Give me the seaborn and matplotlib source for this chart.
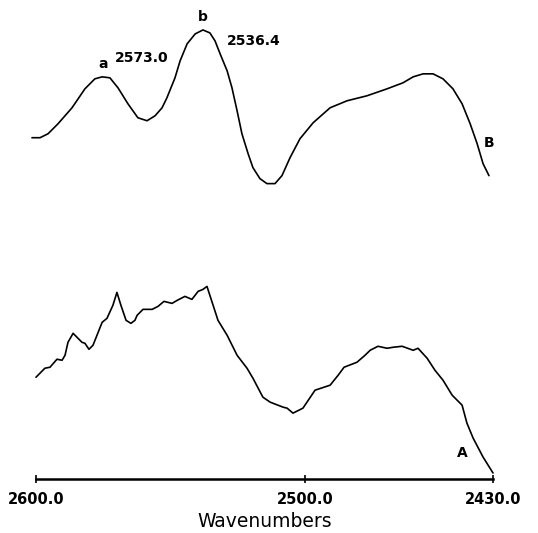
import numpy as np
import pandas as pd
import seaborn as sns
import matplotlib
matplotlib.use("Agg")
import matplotlib.pyplot as plt

# spectrum B (upper trace), wavenumber vs. arbitrary intensity
wn_b = [2601.5, 2598.5, 2595.5, 2591.8, 2586.6, 2581.8, 2578.1, 2575.4, 2572.5,
        2569.5, 2565.8, 2562.1, 2558.7, 2555.7, 2553.1, 2551.3, 2548.3, 2546.4,
        2543.8, 2540.8, 2537.9, 2535.3, 2533.4, 2531.5, 2528.9, 2527.1, 2525.2,
        2523.4, 2521.1, 2519.3, 2516.7, 2514.1, 2511.1, 2508.5, 2505.5, 2501.8,
        2496.9, 2490.6, 2484.3, 2476.9, 2469.4, 2463.5, 2459.7, 2456.0, 2452.3,
        2448.6, 2444.9, 2441.5, 2438.5, 2435.9, 2433.7, 2431.5]
int_b = [341, 341, 345, 355, 371, 390, 400, 402, 401,
         391, 375, 361, 358, 363, 371, 381, 401, 418,
         435, 445, 449, 446, 438, 425, 408, 391, 368,
         345, 325, 311, 300, 295, 295, 303, 321, 340,
         356, 371, 378, 383, 390, 396, 402, 405, 405,
         400, 390, 375, 355, 335, 315, 303]

# spectrum A (lower trace)
wn_a = [2600.0, 2596.7, 2594.8, 2592.2, 2590.3, 2589.2, 2588.1, 2586.2, 2582.9,
        2581.8, 2580.3, 2578.8, 2575.4, 2573.6, 2571.4, 2569.9, 2568.4, 2566.5,
        2564.7, 2563.2, 2562.4, 2560.2, 2556.8, 2554.6, 2552.4, 2549.4, 2547.5,
        2544.6, 2542.0, 2539.7, 2537.9, 2536.4, 2532.3, 2528.9, 2525.2, 2521.5,
        2519.3, 2515.6, 2512.9, 2508.1, 2506.6, 2504.4, 2500.7, 2496.2, 2490.6,
        2487.6, 2485.4, 2480.6, 2477.6, 2475.7, 2472.8, 2469.4, 2467.2, 2463.8,
        2459.7, 2457.9, 2454.5, 2451.6, 2448.6, 2445.2, 2441.5, 2439.7, 2437.4,
        2433.7, 2430.0]
int_a = [101, 110, 111, 119, 118, 123, 136, 145, 136,
         135, 129, 133, 156, 160, 173, 186, 173, 158,
         155, 158, 163, 169, 169, 172, 177, 175, 178,
         182, 179, 187, 189, 192, 158, 143, 123, 110,
         100, 81, 76, 71, 70, 65, 70, 88, 93,
         103, 111, 116, 123, 128, 132, 130, 131, 132,
         128, 130, 120, 108, 98, 83, 73, 55, 40,
         21, 5]

ticks = [2600.0, 2500.0, 2430.0]

# peak labels: (text, wavenumber, intensity)
peak_labels = [("a", 2575.1, 415), ("2573.0", 2560.6, 421),
               ("b", 2537.9, 462), ("2536.4", 2518.9, 438)]
trace_labels = [("B", 2431.5, 336), ("A", 2441.5, 25)]

df_a = pd.DataFrame({"wn": wn_a, "y": int_a})
df_b = pd.DataFrame({"wn": wn_b, "y": int_b})

sns.set_style("white")
plt.rcParams["font.family"] = ["DejaVu Sans"]
plt.rcParams["text.color"] = "black"
plt.rcParams["xtick.color"] = "black"
plt.rcParams["axes.labelcolor"] = "black"

fig = plt.figure(figsize=(5.38, 5.33), dpi=100)
ax = fig.add_axes([36 / 538, 54 / 533, 457 / 538, 479 / 533])

for df in (df_b, df_a):
    sns.lineplot(data=df, x="wn", y="y", ax=ax, color="black", lw=1.2,
                 sort=False, clip_on=False, solid_joinstyle="round",
                 solid_capstyle="round")

ax.set_xlim(2600, 2430)
ax.set_ylim(-1, 479)

sns.despine(ax=ax, left=True, top=True, right=True)
ax.spines["bottom"].set_linewidth(1.8)
ax.spines["bottom"].set_color("black")

ax.set_xticks(ticks)
ax.set_xticklabels(["{:.1f}".format(t) for t in ticks], fontsize=10.5,
                   fontweight="bold")
ax.tick_params(axis="x", bottom=True, direction="inout", length=6, width=1.2,
               color="black", pad=6)
ax.set_yticks([])
ax.set_ylabel("")
ax.set_xlabel("Wavenumbers", fontsize=13.5, labelpad=4)

for txt, x, y in peak_labels:
    ax.text(x, y, txt, ha="center", va="center", fontsize=10,
            fontweight="bold")
for txt, x, y in trace_labels:
    ax.text(x, y, txt, ha="center", va="center", fontsize=10,
            fontweight="bold")

fig.savefig("out.png", dpi=100)
